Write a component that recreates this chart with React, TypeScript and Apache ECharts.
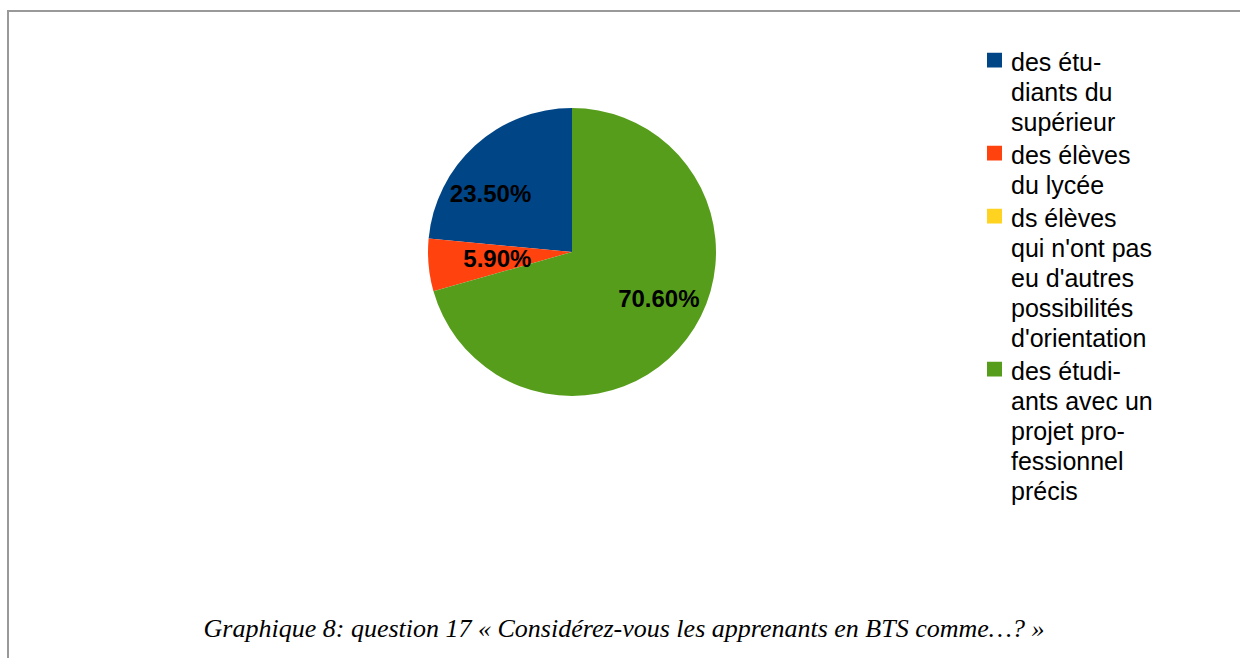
import React, { useEffect, useRef } from "react";
import * as echarts from "echarts";

const categories = [
  "des étudiants du supérieur",
  "des élèves du lycée",
  "ds élèves qui n'ont pas eu d'autres possibilités d'orientation",
  "des étudiants avec un projet professionnel précis",
];
const legendLines = [
  ["des étu-", "diants du", "supérieur"],
  ["des élèves", "du lycée"],
  ["ds élèves", "qui n'ont pas", "eu d'autres", "possibilités", "d'orientation"],
  ["des étudi-", "ants avec un", "projet pro-", "fessionnel", "précis"],
];
const values = [23.5, 5.9, 0, 70.6];
const colors = ["#004586", "#ff420e", "#ffd320", "#579d1c"];
const caption = "Graphique 8: question 17 « Considérez-vous les apprenants en BTS comme…? »";

const labelShift: Record<number, [number, number]> = { 0: [-31, -3], 3: [27, 1] };

function squareImage(c: string) {
  const svg = `<svg xmlns="http://www.w3.org/2000/svg" width="15" height="19"><rect x="0" y="0" width="15" height="15" fill="${c}"/></svg>`;
  return "data:image/svg+xml;charset=utf-8," + encodeURIComponent(svg);
}

export default function App() {
  const ref = useRef<HTMLDivElement>(null);
  useEffect(() => {
    if (!ref.current) return;
    document.documentElement.style.overflow = "hidden";
    document.body.style.overflow = "hidden";
    const chart = echarts.init(ref.current, undefined, { renderer: "svg" });
    const rich: Record<string, any> = {
      gap: { width: 9, height: 15 },
      ind: { width: 24, height: 15 },
      t: {
        fontFamily: "Liberation Sans",
        fontSize: 25,
        lineHeight: 30,
        color: "#000",
      },
    };
    colors.forEach((c, i) => {
      rich["sq" + i] = { width: 15, height: 19, backgroundColor: { image: squareImage(c) } };
    });
    chart.setOption({
      animation: false,
      color: colors,
      legend: {
        orient: "vertical",
        left: 982,
        top: 47,
        padding: 0,
        itemGap: 3,
        icon: "none",
        itemWidth: 0,
        itemHeight: 0,
        selectedMode: false,
        data: categories,
        formatter: (name: string) => {
          const i = categories.indexOf(name);
          return legendLines[i]
            .map((l, j) => (j === 0 ? `{sq${i}|}{gap|}{t|${l}}` : `{ind|}{t|${l}}`))
            .join("\n");
        },
        textStyle: {
          fontFamily: "Liberation Sans",
          fontSize: 25,
          lineHeight: 30,
          color: "#000",
          rich,
        },
      },
      series: [
        {
          type: "pie",
          center: [572, 252],
          radius: 144,
          startAngle: 90,
          clockwise: false,
          avoidLabelOverlap: false,
          data: categories.map((name, i) => ({ name, value: values[i] })),
          itemStyle: { borderWidth: 0 },
          emphasis: { disabled: true },
          label: {
            show: true,
            position: "inside",
            formatter: (p: any) => (p.value ? p.value.toFixed(2) + "%" : ""),
            fontFamily: "Liberation Sans",
            fontWeight: "bold",
            fontSize: 24,
            color: "#000",
          },
          labelLine: { show: false },
          labelLayout: (p: any) => {
            const s = labelShift[p.dataIndex];
            return s ? { dx: s[0], dy: s[1] } : {};
          },
        },
      ],
      graphic: [
        {
          type: "line",
          shape: { x1: 8, y1: 11, x2: 1240, y2: 11 },
          style: { stroke: "#999", lineWidth: 2 },
          silent: true,
        },
        {
          type: "line",
          shape: { x1: 8, y1: 10, x2: 8, y2: 658 },
          style: { stroke: "#999", lineWidth: 2 },
          silent: true,
        },
        {
          type: "text",
          x: 624,
          y: 628,
          style: {
            text: caption,
            font: "italic 26px 'Liberation Serif'",
            fill: "#000",
            textAlign: "center",
            textVerticalAlign: "middle",
          },
        },
      ],
    });
    return () => chart.dispose();
  }, []);
  return (
    <div
      ref={ref}
      style={{ position: "fixed", left: 0, top: 0, width: 1240, height: 658, background: "#fff" }}
    />
  );
}
